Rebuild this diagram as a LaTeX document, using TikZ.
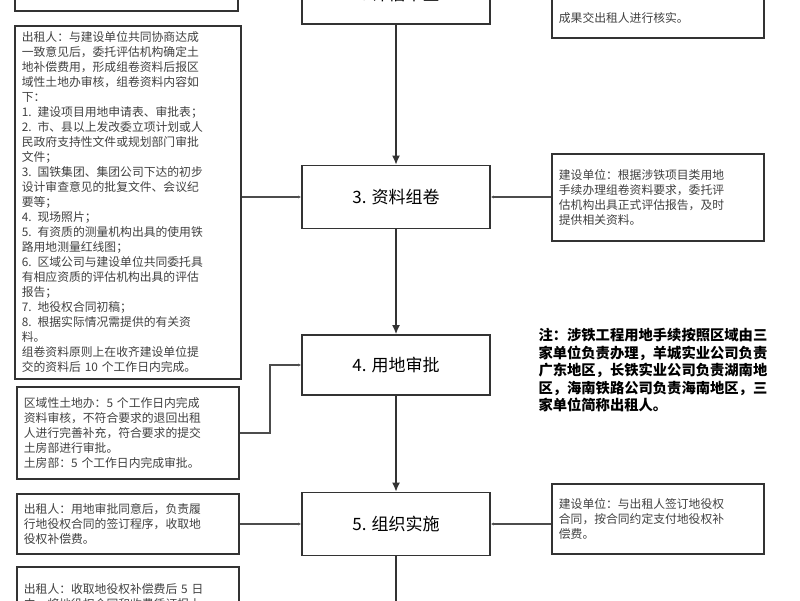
\documentclass[tikz,border=0pt]{standalone}
\usepackage{fontspec}
\setmainfont{Noto Sans CJK SC}
\usetikzlibrary{arrows.meta}
\tikzset{
  stage/.style = {draw=black!80, line width=1.8pt, minimum width=188pt,
                 font=\fontsize{17}{20}\selectfont},
  memo/.style = {draw=black!80, line width=1.8pt, anchor=north west,
                 align=left, inner xsep=7pt, inner ysep=5pt,
                 font=\fontsize{11.8}{15}\selectfont\color{black!75}},
  flow/.style = {draw=black!80, line width=1.3pt, -{Latex[length=9pt,width=8pt]}},
  side/.style = {draw=black!70, line width=1.2pt, -{Latex[length=3pt,width=3pt]}}
}
\begin{document}
\begin{tikzpicture}[x=1pt,y=-1pt]
	\useasboundingbox (0,0) rectangle (800,600);
	\clip (0,0) rectangle (800,600);

	% Stages
	\node[stage, minimum height=60pt, anchor=south] (s2) at (396,25) {2. 评估审查};
	\node[stage, minimum height=63pt] (s3) at (396,197) {3. 资料组卷};
	\node[stage, minimum height=60pt] (s4) at (396,365) {4. 用地审批};
	\node[stage, minimum height=63pt] (s5) at (396,524) {5. 组织实施};
	\coordinate (s6) at (396,610);

	% Left notes
	\node[memo, text width=209pt, minimum height=50pt, anchor=south west] (l1) at (14,12) {出租人：对评估机构提交的评估};
	\node[memo, text width=212pt, minimum height=353pt] (l2) at (14,25) {出租人：与建设单位共同协商达成\\一致意见后，委托评估机构确定土\\地补偿费用，形成组卷资料后报区\\域性土地办审核，组卷资料内容如\\下：\\1. 建设项目用地申请表、审批表；\\2. 市、县以上发改委立项计划或人\\民政府支持性文件或规划部门审批\\文件；\\3. 国铁集团、集团公司下达的初步\\设计审查意见的批复文件、会议纪\\要等；\\4. 现场照片；\\5. 有资质的测量机构出具的使用铁\\路用地测量红线图；\\6. 区域公司与建设单位共同委托具\\有相应资质的评估机构出具的评估\\报告；\\7. 地役权合同初稿；\\8. 根据实际情况需提供的有关资\\料。\\组卷资料原则上在收齐建设单位提\\交的资料后 10 个工作日内完成。};
	\node[memo, text width=208pt, minimum height=92pt] (l3) at (16,386) {区域性土地办：5 个工作日内完成\\资料审核，不符合要求的退回出租\\人进行完善补充，符合要求的提交\\土房部进行审批。\\土房部：5 个工作日内完成审批。};
	\node[memo, text width=208pt, minimum height=60pt] (l4) at (16,493) {出租人：用地审批同意后，负责履\\行地役权合同的签订程序，收取地\\役权补偿费。};
	\node[memo, text width=208pt, minimum height=60pt] (l5) at (16,566) {出租人：收取地役权补偿费后 5 日\\内，将地役权合同和收费凭证报土};

	% Right notes
	\node[memo, text width=198pt, minimum height=40pt, anchor=south west] (r1) at (551,39) {成果交出租人进行核实。};
	\node[memo, text width=198pt, minimum height=87pt] (r2) at (551,153) {建设单位：根据涉铁项目类用地\\手续办理组卷资料要求，委托评\\估机构出具正式评估报告，及时\\提供相关资料。};
	\node[memo, text width=198pt, minimum height=70pt] (r5) at (551,483) {建设单位：与出租人签订地役权\\合同，按合同约定支付地役权补\\偿费。};

	% Note
	\node[anchor=north west, align=left, font=\fontsize{14.3}{17.5}\selectfont\bfseries] (note) at (535,325) {注：涉铁工程用地手续按照区域由三\\家单位负责办理，羊城实业公司负责\\广东地区，长铁实业公司负责湖南地\\区，海南铁路公司负责海南地区，三\\家单位简称出租人。};

	% Main flow
	\draw[flow] (s2) -- (s3);
	\draw[flow] (s3) -- (s4);
	\draw[flow] (s4) -- (s5);
	\draw[flow] (s5) -- (s6);

	% Side links
	\draw[side] (l2.east |- s3) -- (s3);
	\draw[side] (r2.west |- s3) -- (s3);
	\draw[side] (l3.east) -| (270,365) -- (s4);
	\draw[side] (l4.east |- s5) -- (s5);
	\draw[side] (r5.west |- s5) -- (s5);
\end{tikzpicture}
\end{document}
